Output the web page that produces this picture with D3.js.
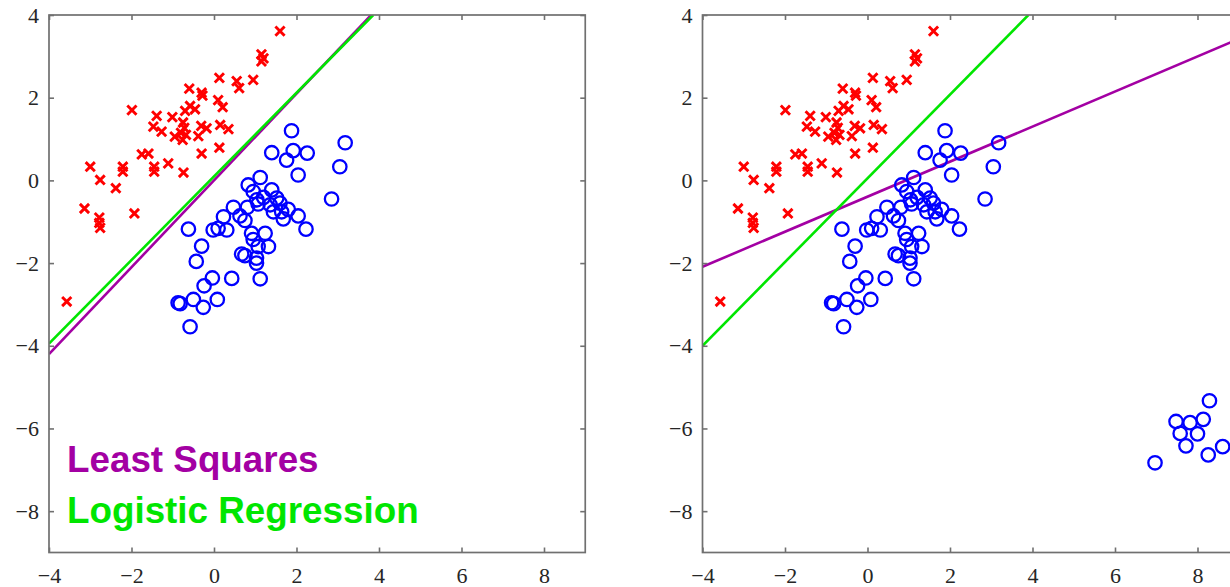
<!DOCTYPE html>
<html>
<head>
<meta charset="utf-8">
<script src="https://cdn.jsdelivr.net/npm/d3@7"></script>
<style>
  html, body { margin: 0; padding: 0; background: #fff; overflow: hidden; }
  svg { display: block; }
</style>
</head>
<body>
<svg id="chart" width="1230" height="587"></svg>
<script>
// ---- data ----
const xTicks = [-4, -2, 0, 2, 4, 6, 8];
const yTicks = [-8, -6, -4, -2, 0, 2, 4];
const xDomain = [-4, 9];
const yDomain = [-9, 4];

// class 1 (red crosses)
const redX = [1.6,1.15,1.2,1.15,0.13,0.55,0.61,0.95,-0.6,-0.3,-0.28,0.1,0.21,-1.99,-0.58,-0.46,-0.70,-1.39,-1.01,-1.47,-1.27,-0.75,-0.72,-0.8,-0.68,-0.95,-0.76,-0.31,-0.18,-0.38,0.15,0.35,0.13,-0.3,-1.75,-1.59,-3.0,-2.76,-2.21,-2.21,-2.38,-1.45,-1.45,-1.11,-0.74,-3.14,-2.78,-2.78,-2.76,-1.93,-3.57];
const redY = [3.61,3.05,2.95,2.88,2.48,2.4,2.23,2.43,2.22,2.12,2.05,1.94,1.77,1.70,1.8,1.72,1.68,1.56,1.53,1.30,1.18,1.4,1.27,1.15,1.1,1.06,0.98,1.32,1.26,1.07,1.34,1.24,0.79,0.65,0.63,0.65,0.33,0.01,0.33,0.21,-0.19,0.33,0.21,0.41,0.19,-0.68,-0.9,-1.03,-1.15,-0.8,-2.93];

// class 2 (blue circles)
const blueX = [1.88,3.18,1.40,1.92,2.26,1.76,3.05,2.04,1.12,0.83,2.85,0.95,1.40,1.04,1.20,1.52,1.36,1.07,1.60,1.64,1.80,1.44,1.68,2.04,2.23,0.81,0.47,0.23,0.63,0.75,-0.62,-0.02,0.1,0.31,0.91,0.95,1.24,1.32,1.07,-0.30,0.67,0.75,1.03,1.03,-0.43,0.43,1.12,-0.04,-0.24,-0.87,-0.82,-0.50,-0.26,0.08,-0.58];
const blueY = [1.20,0.91,0.67,0.72,0.66,0.49,0.33,0.13,0.07,-0.11,-0.45,-0.27,-0.23,-0.47,-0.41,-0.43,-0.59,-0.57,-0.55,-0.76,-0.70,-0.76,-0.93,-0.86,-1.18,-0.65,-0.65,-0.88,-0.86,-0.97,-1.18,-1.2,-1.16,-1.2,-1.28,-1.43,-1.28,-1.60,-1.60,-1.59,-1.78,-1.82,-1.88,-2.0,-1.96,-2.37,-2.38,-2.36,-2.55,-2.96,-2.98,-2.88,-3.07,-2.88,-3.54];

// extra outlier blue points (right panel only)
const outX = [8.29,7.48,7.82,8.14,7.58,8.0,7.72,8.26,8.61,6.97];
const outY = [-5.33,-5.83,-5.86,-5.78,-6.12,-6.13,-6.42,-6.64,-6.44,-6.83];

// decision boundaries: endpoints [x0, y0, x1, y1]
const leftLeastSquares = [-4, -4.2, 3.81, 4.0];
const leftLogistic     = [-4, -3.95, 3.86, 4.0];
const rightLeastSquares = [-4, -2.09, 9, 3.42];
const rightLogistic     = [-4, -4.0, 3.9, 4.0];

const legendLabels = ["Least Squares", "Logistic Regression"];

// ---- styles ----
const COL_LS = "#a300a3";
const COL_LR = "#00e600";
const COL_RED = "#ff0000";
const COL_BLUE = "#0000ff";
const AXIS_COL = "#707070";

const svg = d3.select("#chart");

const W = 536.25, H = 537.5;

function panel(id, left, top, pts, lsLine, lrLine, showLegend) {
  const g = svg.append("g").attr("transform", `translate(${left},${top})`);
  const x = d3.scaleLinear().domain(xDomain).range([0, W]);
  const y = d3.scaleLinear().domain(yDomain).range([H, 0]);

  g.append("clipPath").attr("id", "clip" + id)
    .append("rect").attr("x", 0).attr("y", 0).attr("width", W).attr("height", H);

  const plot = g.append("g").attr("clip-path", `url(#clip${id})`);

  // lines
  const line = d3.line().x(d => x(d[0])).y(d => y(d[1]));
  [[lsLine, COL_LS], [lrLine, COL_LR]].forEach(([L, c]) => {
    plot.append("path")
      .datum([[L[0], L[1]], [L[2], L[3]]])
      .attr("d", line)
      .attr("fill", "none")
      .attr("stroke", c)
      .attr("stroke-width", 2.6);
  });

  // crosses
  const rs = 4.6;
  plot.selectAll(".cross").data(d3.range(redX.length)).join("path")
    .attr("class", "cross")
    .attr("d", i => {
      const cx = x(redX[i]), cy = y(redY[i]);
      return `M${cx-rs},${cy-rs}L${cx+rs},${cy+rs}M${cx-rs},${cy+rs}L${cx+rs},${cy-rs}`;
    })
    .attr("stroke", COL_RED)
    .attr("stroke-width", 2.9)
    .attr("fill", "none");

  // circles
  plot.selectAll(".circ").data(pts).join("circle")
    .attr("class", "circ")
    .attr("cx", d => x(d[0]))
    .attr("cy", d => y(d[1]))
    .attr("r", 6.7)
    .attr("fill", "none")
    .attr("stroke", COL_BLUE)
    .attr("stroke-width", 2.3);

  // axes
  const fmt = d3.format("");
  const ax = [
    g.append("g").attr("transform", `translate(0,${H})`)
      .call(d3.axisBottom(x).tickValues(xTicks).tickSize(-5).tickSizeOuter(0).tickPadding(15).tickFormat(fmt)),
    g.append("g")
      .call(d3.axisLeft(y).tickValues(yTicks).tickSize(-5).tickSizeOuter(0).tickPadding(10).tickFormat(fmt)),
    g.append("g")
      .call(d3.axisTop(x).tickValues(xTicks).tickSize(-5).tickSizeOuter(0).tickFormat("")),
    g.append("g").attr("transform", `translate(${W},0)`)
      .call(d3.axisRight(y).tickValues(yTicks).tickSize(-5).tickSizeOuter(0).tickFormat(""))
  ];
  ax.forEach(a => {
    a.select(".domain").remove();
    a.selectAll(".tick line").attr("stroke", AXIS_COL).attr("stroke-width", 1.6);
    a.selectAll(".tick text")
      .attr("font-family", "'Liberation Serif', 'Times New Roman', serif")
      .attr("font-size", 22)
      .attr("fill", "#262626");
  });

  g.append("rect").attr("x", 0).attr("y", 0).attr("width", W).attr("height", H)
    .attr("fill", "none").attr("stroke", AXIS_COL).attr("stroke-width", 1.7);

  if (showLegend) {
    const cols = [COL_LS, COL_LR];
    const baselines = [H - 80.5, H - 29.5];
    legendLabels.forEach((t, i) => {
      g.append("text")
        .attr("x", 18)
        .attr("y", baselines[i])
        .attr("font-family", "'Liberation Sans', Arial, sans-serif")
        .attr("font-weight", "bold")
        .attr("font-size", 36.8)
        .attr("fill", cols[i])
        .text(t);
    });
  }
}

const basePts = blueX.map((v, i) => [v, blueY[i]]);
const rightPts = basePts.concat(outX.map((v, i) => [v, outY[i]]));

panel("L", 49, 15, basePts, leftLeastSquares, leftLogistic, true);
panel("R", 702.5, 15, rightPts, rightLeastSquares, rightLogistic, false);
</script>
</body>
</html>
